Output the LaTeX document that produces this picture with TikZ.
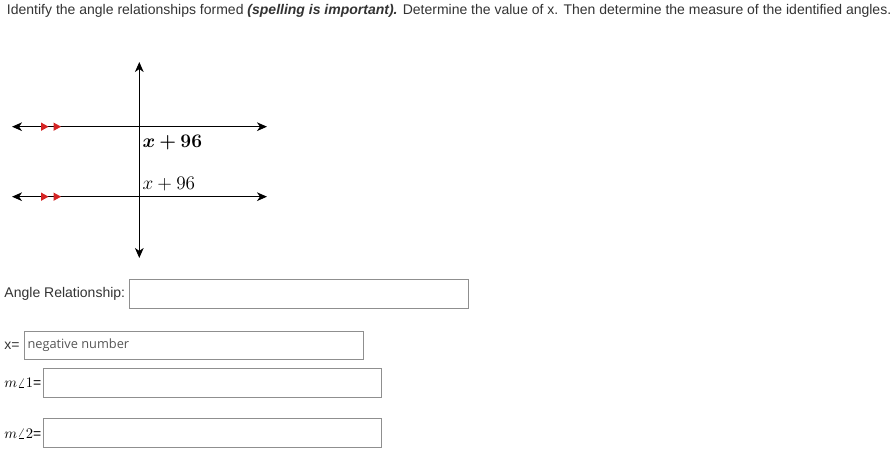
\documentclass[tikz,border=0pt]{standalone}
\usepackage{bm}
\usepackage{fontspec}
\setmainfont{Liberation Sans}
\newfontfamily\hintfont{Open Sans}
\usetikzlibrary{arrows.meta}
\definecolor{txtgray}{HTML}{333333}
\definecolor{boxgray}{HTML}{8F8F8F}
\definecolor{hintgray}{HTML}{555555}
\definecolor{tickred}{HTML}{D42424}
\begin{document}
\begin{tikzpicture}[
    x=0.75pt, y=-0.75pt,
    every node/.style={inner sep=0pt, outer sep=0pt},
    txt/.style={anchor=west, text=txtgray, font=\fontsize{10.5}{12}\selectfont},
    axis/.style={line width=0.9pt, {Stealth[length=7.5pt,width=6.5pt,inset=2.2pt]}-{Stealth[length=7.5pt,width=6.5pt,inset=2.2pt]}},
    field/.style={draw=boxgray, line width=0.6pt, anchor=north west, minimum height=21.75pt},
    measure/.style={anchor=west, font=\fontsize{13.5}{15}\selectfont}]

    \useasboundingbox (0,0) rectangle (896,452);

    % heading
    \node[txt] (head) at (7,10.5) {Identify the angle relationships formed \textbf{\textit{(spelling is important).}} Determine the value of x. Then determine the measure of the identified angles.};

    % the figure
    \coordinate (tl) at (12,126.7);
    \coordinate (tr) at (267,126.7);
    \coordinate (bl) at (12,196.7);
    \coordinate (br) at (267,196.7);
    \coordinate (up) at (139.3,62);
    \coordinate (dn) at (139.3,258);
    \draw[axis] (tl) -- (tr);
    \draw[axis] (bl) -- (br);
    \draw[axis] (up) -- (dn);
    \foreach \ly in {126.7,196.7}
        \foreach \tx in {48.5,61}
            \fill[tickred] (\tx,\ly) -- ++(-7.5,-4.2) -- ++(0,8.4) -- cycle;
    \node[measure] (one) at (142.5,142.5) {$\bm{x+96}$};
    \node[measure] (two) at (142.5,184) {$x+96$};

    % answer fields
    \node[txt] (rel) at (4.5,294) {Angle Relationship:};
    \node[field, minimum width=254.25pt] (relbox) at (129,279) {};
    \node[txt] (xeq) at (4.5,346) {x=};
    \node[field, minimum width=254.25pt, minimum height=21pt] (xbox) at (24,331) {};
    \node[anchor=west, text=hintgray, font=\hintfont\fontsize{9.6}{11}\selectfont] (hint) at (27.5,345.5) {negative number};
    \node[txt, text=black, font=\fontsize{10.5}{12}\selectfont] (m1) at (4.5,383) {$m\angle1$=};
    \node[field, minimum width=253.5pt] (m1box) at (43,368) {};
    \node[txt, text=black, font=\fontsize{10.5}{12}\selectfont] (m2) at (4.5,433.5) {$m\angle2$=};
    \node[field, minimum width=253.5pt] (m2box) at (43,418) {};
\end{tikzpicture}
\end{document}
